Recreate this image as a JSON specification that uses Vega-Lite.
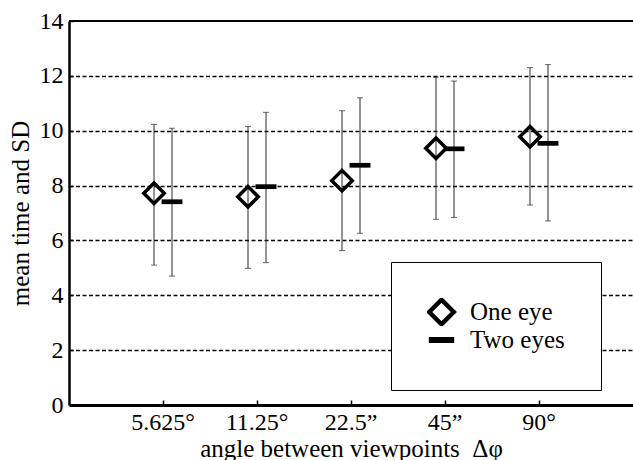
{
  "$schema": "https://vega.github.io/schema/vega-lite/v6.json",
  "width": 564,
  "height": 384,
  "autosize": {"type": "none"},
  "padding": {"left": 69, "top": 21, "right": 0, "bottom": 55},
  "background": "white",
  "config": {
    "view": {"stroke": null},
    "font": "Liberation Serif",
    "axis": {
      "labelFont": "Liberation Serif",
      "titleFont": "Liberation Serif",
      "labelColor": "black",
      "titleColor": "black",
      "titleFontWeight": "normal",
      "domainColor": "black",
      "tickColor": "black"
    },
    "legend": {"labelFont": "Liberation Serif"}
  },
  "data": {
    "values": [
      {"angle": "5.625°", "eye": "One eye", "mean": 7.72, "lo": 5.10, "hi": 10.23},
      {"angle": "5.625°", "eye": "Two eyes", "mean": 7.41, "lo": 4.70, "hi": 10.09},
      {"angle": "11.25°", "eye": "One eye", "mean": 7.59, "lo": 4.98, "hi": 10.15},
      {"angle": "11.25°", "eye": "Two eyes", "mean": 7.96, "lo": 5.19, "hi": 10.67},
      {"angle": "22.5”", "eye": "One eye", "mean": 8.18, "lo": 5.63, "hi": 10.73},
      {"angle": "22.5”", "eye": "Two eyes", "mean": 8.74, "lo": 6.26, "hi": 11.20},
      {"angle": "45”", "eye": "One eye", "mean": 9.36, "lo": 6.77, "hi": 11.95},
      {"angle": "45”", "eye": "Two eyes", "mean": 9.34, "lo": 6.84, "hi": 11.81},
      {"angle": "90°", "eye": "One eye", "mean": 9.78, "lo": 7.29, "hi": 12.30},
      {"angle": "90°", "eye": "Two eyes", "mean": 9.54, "lo": 6.71, "hi": 12.41}
    ]
  },
  "layer": [
    {
      "mark": {"type": "rule", "color": "#2a2a2a", "strokeWidth": 1},
      "encoding": {
        "x": {
          "field": "angle",
          "type": "nominal",
          "scale": {"domain": ["5.625°", "11.25°", "22.5”", "45”", "90°"], "paddingInner": 0, "paddingOuter": 0.5},
          "axis": {
            "orient": "bottom",
            "title": "angle between viewpoints\u00a0 Δφ",
            "titleFontSize": 25,
            "titlePadding": 2,
            "labelFontSize": 24,
            "labelAngle": 0,
            "labelPadding": 10,
            "domainWidth": 3,
            "tickSize": -5,
            "tickWidth": 1.5,
            "grid": false
          }
        },
        "xOffset": {
          "field": "eye",
          "type": "nominal",
          "scale": {"type": "point", "domain": ["One eye", "Two eyes"], "range": [38, 56], "padding": 0}
        },
        "y": {
          "field": "lo",
          "type": "quantitative",
          "title": "mean time and SD",
          "scale": {"domain": [0, 14], "nice": false, "zero": true},
          "axis": {
            "values": [0, 2, 4, 6, 8, 10, 12, 14],
            "labelFontSize": 24,
            "labelPadding": 10,
            "titleFontSize": 25,
            "titlePadding": 6,
            "domainWidth": 2.5,
            "tickSize": -4,
            "tickWidth": 1.5,
            "grid": true,
            "gridColor": "black",
            "gridDash": [4, 2.5],
            "gridWidth": 1.6,
            "gridOpacity": {"condition": {"test": "datum.value == 0 || datum.value == 14", "value": 0}, "value": 1}
          }
        },
        "y2": {"field": "hi"}
      }
    },
    {
      "mark": {"type": "tick", "color": "#2a2a2a", "thickness": 1, "size": 6},
      "encoding": {
        "x": {"field": "angle", "type": "nominal"},
        "xOffset": {"field": "eye", "type": "nominal"},
        "y": {"field": "hi", "type": "quantitative", "title": "mean time and SD"}
      }
    },
    {
      "mark": {"type": "tick", "color": "#2a2a2a", "thickness": 1, "size": 6},
      "encoding": {
        "x": {"field": "angle", "type": "nominal"},
        "xOffset": {"field": "eye", "type": "nominal"},
        "y": {"field": "lo", "type": "quantitative", "title": "mean time and SD"}
      }
    },
    {
      "mark": {"type": "rule", "color": "black", "strokeWidth": 2},
      "encoding": {
        "y": {"datum": 14}
      }
    },
    {
      "mark": {"type": "point", "filled": false, "color": "black", "strokeWidth": 3.5, "size": 420, "opacity": 1, "strokeJoin": "miter"},
      "encoding": {
        "x": {"field": "angle", "type": "nominal"},
        "xOffset": {"field": "eye", "type": "nominal"},
        "y": {"field": "mean", "type": "quantitative", "title": "mean time and SD"},
        "shape": {
          "field": "eye",
          "type": "nominal",
          "scale": {"domain": ["One eye", "Two eyes"], "range": ["diamond", "M-0.85,-0.06H0.85V0.06H-0.85Z"]},
          "legend": {
            "orient": "none",
            "legendX": 322,
            "legendY": 241,
            "title": null,
            "padding": 36,
            "strokeColor": "black",
            "fillColor": "white",
            "labelFont": "Liberation Serif",
            "labelFontSize": 25,
            "labelColor": "black",
            "labelOffset": 14,
            "labelLimit": 300,
            "symbolSize": 600,
            "symbolStrokeWidth": 4.5,
            "symbolStrokeColor": "black",
            "rowPadding": 0,
            "clipHeight": 28,
            "encode": {
              "legend": {"update": {"strokeWidth": {"value": 2}}}
            }
          }
        }
      }
    }
  ]
}
